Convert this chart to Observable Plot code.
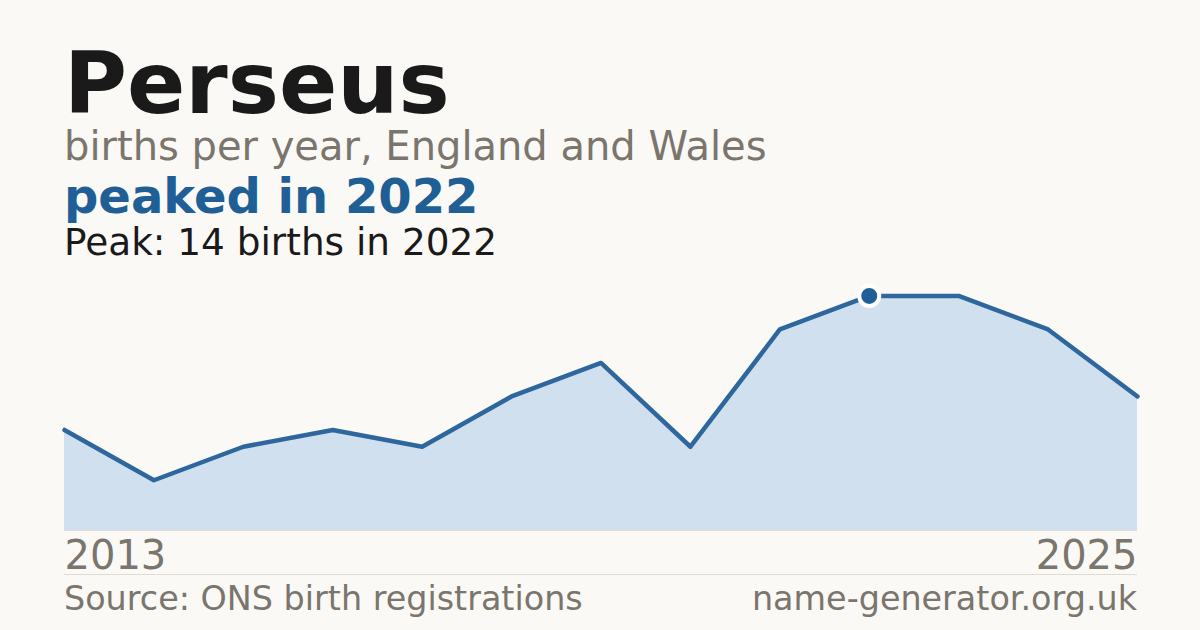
<!DOCTYPE html>
<html>
<head>
<meta charset="utf-8">
<script src="https://cdn.jsdelivr.net/npm/d3@7"></script>
<script src="https://cdn.jsdelivr.net/npm/@observablehq/plot@0.6"></script>
<style>
  html, body { margin: 0; padding: 0; background: #faf9f5; }
  #page { position: relative; width: 1200px; height: 630px; overflow: hidden; background: #faf9f5; font-family: "DejaVu Sans", sans-serif; }
  .t { position: absolute; left: 64px; line-height: 1; white-space: nowrap; margin: 0; }
  #title { top: 44.5px; font-size: 86px; line-height: 0.9; font-weight: bold; color: #1a1a1a; }
  #sub { top: 126px; font-size: 40px; color: #7a756d; }
  #headline { top: 172px; font-size: 48px; font-weight: bold; color: #1f5f96; }
  #peak { top: 223.5px; font-size: 37.4px; color: #1a1a1a; }
  #chart { position: absolute; left: 0; top: 272px; }
  #sep { position: absolute; left: 64px; width: 1073px; top: 574px; height: 1px; background: #e0dcd4; }
  #src { top: 582px; font-size: 33.4px; color: #7a756d; }
  #site { top: 582px; left: auto; right: 63px; font-size: 33.4px; color: #7a756d; }
</style>
</head>
<body>
<div id="page">
  <div class="t" id="title">Perseus</div>
  <div class="t" id="sub">births per year, England and Wales</div>
  <div class="t" id="headline">peaked in 2022</div>
  <div class="t" id="peak">Peak: 14 births in 2022</div>
  <div id="chart"></div>
  <div id="sep"></div>
  <div class="t" id="src">Source: ONS birth registrations</div>
  <div class="t" id="site">name-generator.org.uk</div>
</div>
<script>
const years = [2013, 2014, 2015, 2016, 2017, 2018, 2019, 2020, 2021, 2022, 2023, 2024, 2025];
const births = [6, 3, 5, 6, 5, 8, 10, 5, 12, 14, 14, 12, 8];
const peakYear = 2022;
const peakValue = 14;
const firstTick = 2013;
const lastTick = 2025;

const data = years.map((y, i) => ({year: y, births: births[i]}));

const chart = Plot.plot({
  width: 1200,
  height: 308,
  marginLeft: 64,
  marginRight: 63,
  marginTop: 0,
  marginBottom: 50,
  style: {background: "transparent", fontFamily: "DejaVu Sans, sans-serif", overflow: "visible"},
  x: {domain: [firstTick, lastTick], axis: null},
  y: {domain: [0, peakValue * 1.1], axis: null},
  marks: [
    Plot.areaY(data, {x: "year", y: "births", fill: "#d0e0ef"}),
    Plot.ruleY([0], {stroke: "#e0dcd4", strokeWidth: 1}),
    Plot.lineY(data, {x: "year", y: "births", stroke: "#2d679d", strokeWidth: 4.5, strokeLinejoin: "round"}),
    Plot.dot([{year: peakYear, births: peakValue}], {x: "year", y: "births", r: 10, fill: "#1f5f96", stroke: "#ffffff", strokeWidth: 4}),
    Plot.axisX([firstTick], {tickSize: 0, tickPadding: 10, fontSize: 40, fill: "#7a756d", textAnchor: "start", label: null, tickFormat: d => String(d)}),
    Plot.axisX([lastTick], {tickSize: 0, tickPadding: 10, fontSize: 40, fill: "#7a756d", textAnchor: "end", label: null, tickFormat: d => String(d)})
  ]
});
document.getElementById("chart").appendChild(chart);
</script>
</body>
</html>
